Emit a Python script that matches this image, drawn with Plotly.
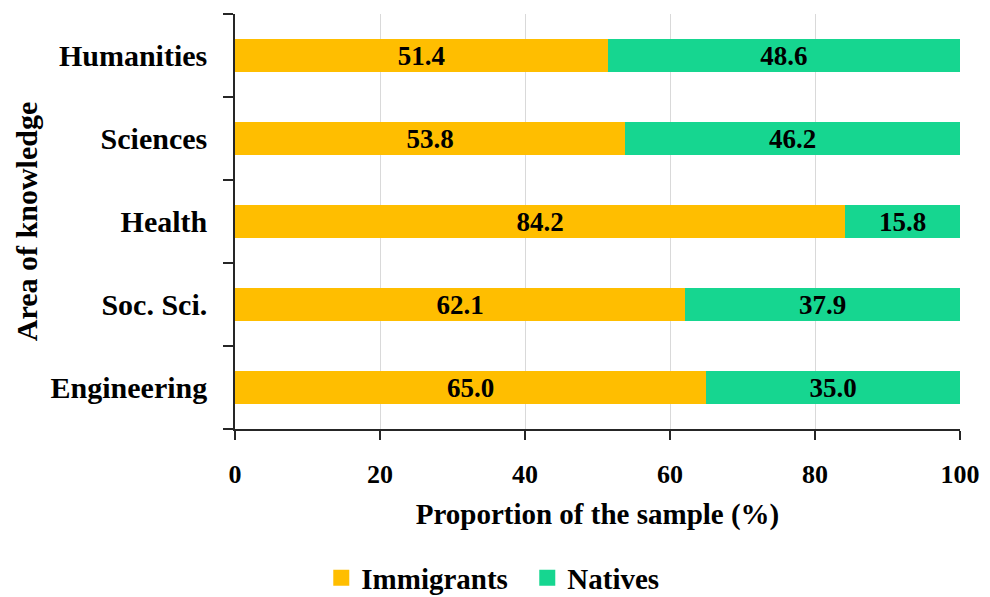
import plotly.graph_objects as go

# Areas listed bottom-to-top as they appear on the axis
areas = ["Engineering", "Soc. Sci.", "Health", "Sciences", "Humanities"]
immigrants = [65.0, 62.1, 84.2, 53.8, 51.4]
natives = [35.0, 37.9, 15.8, 46.2, 48.6]
x_ticks = [0, 20, 40, 60, 80, 100]

ORANGE = "#FFBE00"
GREEN = "#16D690"
FONT = "Liberation Serif"

fig = go.Figure()

for name, vals, color in [("Immigrants", immigrants, ORANGE), ("Natives", natives, GREEN)]:
    fig.add_trace(go.Bar(
        y=areas, x=vals, name=name, orientation="h",
        marker=dict(color=color, line=dict(width=0)),
        width=0.4,
        texttemplate="%{x:.1f}", textposition="inside",
        insidetextanchor="middle", constraintext="none",
        textfont=dict(family=FONT, size=27, color="black", weight="bold"),
        showlegend=False,
    ))

# Legend entries with larger square swatches
for name, color in [("Immigrants", ORANGE), ("Natives", GREEN)]:
    fig.add_trace(go.Scatter(
        x=[None], y=[None], mode="markers", name=name,
        marker=dict(symbol="square", size=17, color=color),
    ))

fig.update_layout(
    barmode="stack",
    width=990, height=597,
    margin=dict(l=235, r=30, t=14, b=168, autoexpand=False),
    paper_bgcolor="white", plot_bgcolor="white",
    font=dict(family=FONT, color="black", weight="bold"),
    legend=dict(
        orientation="h", traceorder="normal",
        x=0.119, xanchor="left", xref="paper",
        y=19 / 597, yanchor="middle", yref="container",
        font=dict(family=FONT, size=29, color="black", weight="bold"),
        entrywidth=161, entrywidthmode="pixels",
        itemsizing="trace",
    ),
    xaxis=dict(
        range=[0, 100], tickvals=x_ticks, automargin=False,
        showgrid=True, gridcolor="#D9D9D9", gridwidth=1,
        zeroline=False,
        showline=True, linecolor="#262626", linewidth=1.5,
        ticks="outside", ticklen=9, tickcolor="#262626", tickwidth=1.5,
        tickfont=dict(family=FONT, size=26, color="black", weight="bold"),
        ticklabelstandoff=12,
        title=dict(text="Proportion of the sample (%)", standoff=16,
                   font=dict(family=FONT, size=29, color="black", weight="bold")),
    ),
    yaxis=dict(
        type="category", range=[-0.5, 4.5], automargin=False,
        showgrid=False, zeroline=False,
        showline=True, linecolor="#262626", linewidth=1.5,
        ticks="outside", tickson="boundaries", ticklen=10,
        tickcolor="#262626", tickwidth=1.5,
        tickfont=dict(family=FONT, size=30, color="black", weight="bold"),
        ticklabelstandoff=20,
        title=dict(text="Area of knowledge", standoff=4,
                   font=dict(family=FONT, size=30, color="black", weight="bold")),
    ),
)

fig.write_html("out.html")
